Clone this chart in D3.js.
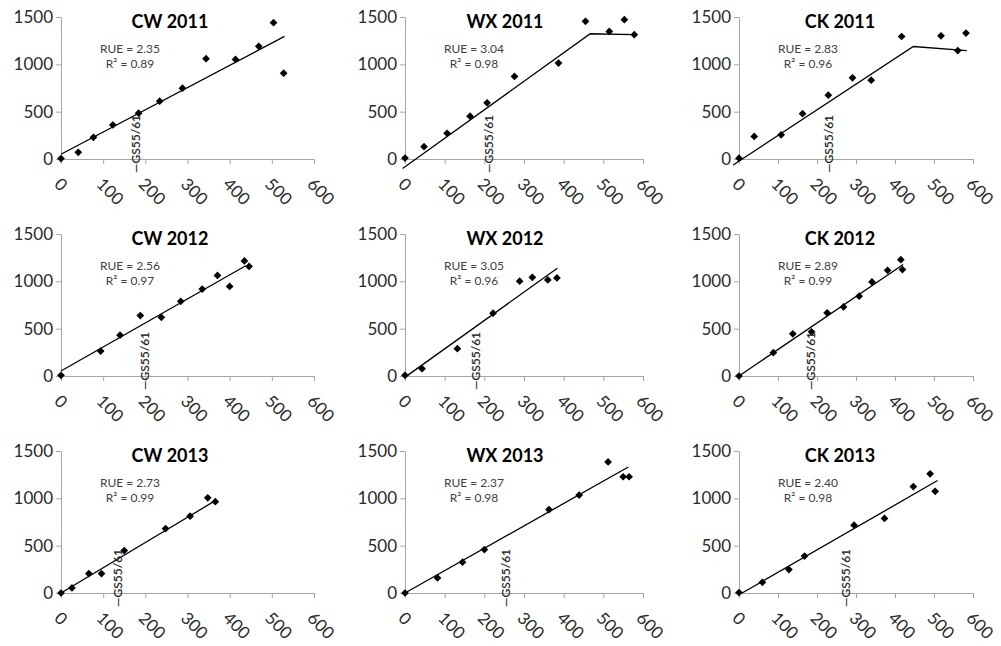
<!DOCTYPE html>
<html>
<head>
<meta charset="utf-8">
<script src="https://cdn.jsdelivr.net/npm/d3@7"></script>
<style>
  body { margin: 0; background: #fff; }
  svg  { display: block; }
  text { font-family: Lato, 'Open Sans', sans-serif; }
</style>
</head>
<body>
<svg id="chart" width="1001" height="646"></svg>
<script>
// panel order: row by row (2011, 2012, 2013) x (CW, WX, CK)
const titles   = ['CW 2011', 'WX 2011', 'CK 2011',
                  'CW 2012', 'WX 2012', 'CK 2012',
                  'CW 2013', 'WX 2013', 'CK 2013']
const rueText  = ['2.35', '3.04', '2.83', '2.56', '3.05', '2.89', '2.73', '2.37', '2.40']
const r2Text   = ['0.89', '0.98', '0.96', '0.97', '0.96', '0.99', '0.99', '0.98', '0.98']
const gsStage  = [178, 212, 231, 198, 178, 183, 134, 255, 273]

const xTicks = [0, 100, 200, 300, 400, 500, 600]
const yTicks = [0, 500, 1000, 1500]

// [intercepted PAR, biomass]
const cw2011 = [[0,5],[41,71],[77,229],[123,360],[184,484],[234,611],[288,748],[344,1059],[414,1052],[469,1190],[504,1440],[528,907]]
const wx2011 = [[0,10],[48,130],[106,272],[164,452],[207,593],[276,872],[387,1013],[455,1454],[515,1348],[553,1472],[578,1313]]
const ck2011 = [[0,8],[39,238],[108,255],[163,479],[229,674],[291,858],[339,833],[417,1294],[518,1301],[561,1145],[582,1330]]
const cw2012 = [[0,7],[94,263],[140,431],[188,638],[238,620],[284,789],[335,918],[371,1062],[400,946],[435,1216],[446,1157]]
const wx2012 = [[0,7],[43,77],[132,288],[222,664],[289,1001],[321,1043],[360,1015],[383,1036]]
const ck2012 = [[0,0],[88,246],[138,446],[186,467],[226,667],[268,730],[308,843],[341,994],[381,1117],[415,1229],[419,1124]]
const cw2013 = [[0,0],[26,53],[66,205],[96,205],[150,448],[248,681],[306,812],[348,1006],[366,964]]
const wx2013 = [[0,0],[82,159],[145,325],[200,459],[363,882],[439,1034],[512,1384],[550,1228],[565,1228]]
const ck2013 = [[0,5],[60,113],[128,248],[168,390],[295,716],[373,787],[447,1124],[490,1259],[503,1074]]

// fitted lines (broken-stick where there is a plateau)
const fitCw2011 = [[0,50],[530,1295]]
const fitWx2011 = [[-6,-100],[467,1323],[578,1313]]
const fitCk2011 = [[-15,-64],[447,1188],[584,1145]]
const fitCw2012 = [[0,53],[438,1164]]
const fitWx2012 = [[3,-4],[384,1138]]
const fitCk2012 = [[0,0],[421,1177]]
const fitCw2013 = [[0,0],[368,981]]
const fitWx2013 = [[0,0],[563,1331]]
const fitCk2013 = [[8,0],[509,1188]]

const points = [cw2011, wx2011, ck2011, cw2012, wx2012, ck2012, cw2013, wx2013, ck2013]
const fits   = [fitCw2011, fitWx2011, fitCk2011, fitCw2012, fitWx2012, fitCk2012, fitCw2013, fitWx2013, fitCk2013]

// layout
const colX0  = [61, 405, 739]
const colW   = [253, 238, 234]
const rowY0  = [159, 376, 593]
const plotH  = 142
const titleX = [170, 505, 840]
const axisColor = '#a6a6a6'

const svg = d3.select('#chart')
svg.append('rect').attr('width', 1001).attr('height', 646).attr('fill', '#fff')

const diamond = d3.symbol(d3.symbolSquare, 30)

titles.forEach((title, i) => {
  const col = i % 3
  const row = Math.floor(i / 3)
  const x0 = colX0[col]
  const y0 = rowY0[row]

  const x = d3.scaleLinear().domain([0, 600]).range([x0, x0 + colW[col]])
  const y = d3.scaleLinear().domain([0, 1500]).range([y0, y0 - plotH])

  const g = svg.append('g')

  // x axis
  const xa = g.append('g')
    .attr('transform', `translate(0,${y0})`)
    .call(d3.axisBottom(x).tickValues(xTicks).tickSize(5).tickSizeOuter(0).tickFormat(d3.format('d')))
  xa.selectAll('text')
    .attr('x', 0).attr('y', 0).attr('dy', '0.35em')
    .attr('text-anchor', 'start')
    .attr('transform', 'translate(-4,22) rotate(45)')

  // y axis
  const ya = g.append('g')
    .attr('transform', `translate(${x0},0)`)
    .call(d3.axisLeft(y).tickValues(yTicks).tickSize(5).tickSizeOuter(0).tickFormat(d3.format('d')))

  ;[xa, ya].forEach(a => {
    a.select('.domain').attr('stroke', axisColor)
    a.selectAll('.tick line').attr('stroke', axisColor)
    a.selectAll('text').attr('fill', '#2a2a2a').attr('font-size', 17)
  })

  // fitted line
  g.append('path')
    .datum(fits[i])
    .attr('fill', 'none')
    .attr('stroke', '#000')
    .attr('stroke-width', 1.3)
    .attr('d', d3.line().x(d => x(d[0])).y(d => y(d[1])))

  // observations
  g.append('g')
    .selectAll('path')
    .data(points[i])
    .join('path')
    .attr('d', diamond)
    .attr('fill', '#000')
    .attr('transform', d => `translate(${x(d[0])},${y(d[1])}) rotate(45)`)

  // GS55/61 marker
  g.append('text')
    .attr('transform', `translate(${x(gsStage[i])},${y0 + 14}) rotate(-90)`)
    .attr('dy', '0.35em')
    .attr('text-anchor', 'start')
    .attr('font-size', 12)
    .attr('fill', '#222')
    .attr('stroke', '#222')
    .attr('stroke-width', 0.2)
    .text('—GS55/61')

  // title
  g.append('text')
    .attr('x', titleX[col])
    .attr('y', y0 - 131)
    .attr('text-anchor', 'middle')
    .attr('font-size', 18)
    .attr('font-weight', 'bold')
    .attr('fill', '#000')
    .text(title)

  // RUE and R²
  g.append('text')
    .attr('x', x0 + 69).attr('y', y0 - 106)
    .attr('text-anchor', 'middle')
    .attr('font-size', 12).attr('fill', '#404040')
    .text(`RUE = ${rueText[i]}`)
  g.append('text')
    .attr('x', x0 + 69).attr('y', y0 - 91)
    .attr('text-anchor', 'middle')
    .attr('font-size', 12).attr('fill', '#404040')
    .text(`R² = ${r2Text[i]}`)
})
</script>
</body>
</html>
